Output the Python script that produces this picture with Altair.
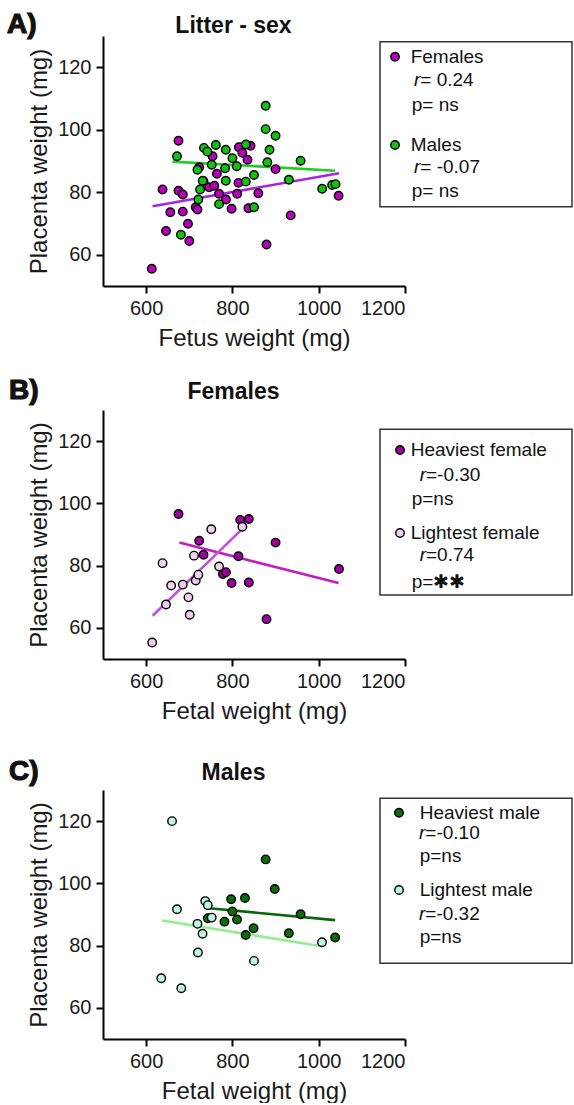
import altair as alt
import pandas as pd

# ---------------- data ----------------
# Panel A: all fetuses, by sex
a_fem_x = [613, 675, 638, 675, 685, 656, 685, 646, 697, 700, 715, 719, 746, 758, 764, 754, 769, 785,
           798, 811, 814, 815, 823, 835, 842, 837, 860, 879, 900, 935, 1046, 723, 733]
a_fem_y = [55.5, 96.5, 80.9, 80.5, 79.3, 73.6, 73.8, 67.6, 69.9, 64.4, 75.2, 74.5, 81.6, 82.1, 85.9, 91.5,
           79.5, 77.7, 74.7, 79.5, 83.0, 94.4, 92.6, 90.4, 94.9, 74.9, 79.7, 63.3, 87.4, 72.6, 78.9, 88.0, 83.5]
a_mal_x = [671.5, 680.6, 719, 731, 725, 721, 734, 742, 761.5, 752, 784.6, 783, 784.6, 769, 800, 810,
           831, 831, 850, 850, 877, 877, 900, 886, 881, 931, 958, 1008, 1031, 1039]
a_mal_y = [91.5, 66.4, 87.2, 83.7, 80.9, 77.7, 94.2, 93.0, 95.1, 88.8, 93.6, 87.7, 83.7, 76.2, 90.9, 88.3,
           95.3, 83.4, 85.5, 75.2, 107.7, 100.2, 98.1, 93.6, 89.6, 84.0, 90.1, 81.1, 82.3, 82.6]
a_fem_fit_x = [615, 1047]
a_fem_fit_y = [75.5, 86.1]
a_mal_fit_x = [661, 1038]
a_mal_fit_y = [89.8, 86.9]

# Panel B: females
b_heavy_x = [675, 723, 733, 778, 785, 798, 814, 818, 838, 838, 879, 900, 1047]
b_heavy_y = [96.6, 88.0, 83.5, 77.3, 77.9, 74.4, 83.0, 94.7, 95.0, 74.6, 62.8, 87.4, 78.9]
b_light_x = [614, 638, 646, 658, 685, 698, 701, 711, 715, 721, 751, 769, 823]
b_light_y = [55.3, 80.8, 67.5, 73.6, 73.9, 69.8, 64.2, 83.2, 75.2, 77.1, 91.7, 79.7, 92.5]
b_heavy_fit_x = [677, 1046]
b_heavy_fit_y = [87.4, 74.4]
b_light_fit_x = [615, 823]
b_light_fit_y = [63.9, 91.8]

# Panel C: males
c_heavy_x = [877, 898, 797, 829, 800, 958, 743, 781.5, 810.7, 849, 830.7, 930.7, 1038]
c_heavy_y = [107.7, 98.2, 94.9, 95.3, 91.0, 90.1, 88.8, 87.7, 88.4, 85.6, 83.4, 84.0, 82.6]
c_light_x = [660, 671.5, 635, 681.5, 720, 730.7, 719, 737, 743, 752, 850, 1007.6]
c_light_y = [120.0, 91.7, 69.5, 66.3, 77.8, 83.8, 87.0, 94.3, 93.0, 89.0, 75.1, 81.1]
c_heavy_fit_x = [746, 1038]
c_heavy_fit_y = [92.0, 88.2]
c_light_fit_x = [637, 1006]
c_light_fit_y = [88.1, 79.8]

x_ticks = [600, 800, 1000, 1200]
y_ticks = [60, 80, 100, 120]

FONT = "Liberation Sans"
ONE = pd.DataFrame({"k": [0]})


def xy(xs, ys):
    return pd.DataFrame({"x": xs, "y": ys})


def enc(x_title):
    return dict(
        x=alt.X("x:Q", scale=alt.Scale(domain=[500, 1200], nice=False, zero=False),
                axis=alt.Axis(values=x_ticks, title=x_title, format="d")),
        y=alt.Y("y:Q", scale=alt.Scale(domain=[50, 130], nice=False, zero=False),
                axis=alt.Axis(values=y_ticks, title="Placenta weight (mg)", format="d")),
    )


def text(t, x, y, size=19, weight="normal", style="normal", align="left", stroke=None):
    kw = dict(text=t, align=align, baseline="middle", font=FONT, fontSize=size,
              fontWeight=weight, fontStyle=style, color="#111111")
    if stroke:
        kw.update(stroke="#111111", strokeWidth=stroke)
    return alt.Chart(ONE).mark_text(**kw).encode(x=alt.value(x), y=alt.value(y))


PT = 72


def panel(letter, title, x_title, height, groups, title_y, legend):
    e = enc(x_title)
    layers = []
    for g in groups:
        layers.append(alt.Chart(xy(g["fx"], g["fy"])).mark_line(
            stroke=g["line"], strokeWidth=2.6).encode(**e))
    for g in groups:
        layers.append(alt.Chart(xy(g["xs"], g["ys"])).mark_point(
            shape="circle", filled=True, size=PT, fill=g["fill"], stroke="black",
            strokeWidth=1.4, opacity=1).encode(**e))
    # panel letter + title
    layers.append(text(letter, -96 if letter == "A)" else -94, title_y, size=28, weight="bold", stroke=1.2))
    layers.append(text(title, 130.5, title_y + 1, size=23, weight="bold", align="center"))
    # legend box
    bx = legend["box"]
    layers.append(alt.Chart(ONE).mark_rect(fill="white", stroke="#333333", strokeWidth=1.5).encode(
        x=alt.value(277), x2=alt.value(469), y=alt.value(bx[0]), y2=alt.value(bx[1])))
    for g, row in zip(groups, legend["rows"]):
        layers.append(alt.Chart(ONE).mark_point(
            shape="circle", filled=True, size=PT, fill=g["fill"], stroke="black",
            strokeWidth=1.4, opacity=1).encode(x=alt.value(legend["mx"]), y=alt.value(row["y"][0])))
        layers.append(text(g["name"], legend["nx"], row["y"][0]))
        layers.append(text("r", legend["rx"], row["y"][1], style="italic"))
        layers.append(text(g["r"], legend["rx"] + 6.3, row["y"][1]))
        layers.append(text(g["p"], legend["px"], row["y"][2]))
    return alt.layer(*layers).properties(width=302, height=height)


panel_a = panel(
    "A)", "Litter - sex", "Fetus weight (mg)", 250,
    [
        dict(name="Females", xs=a_fem_x, ys=a_fem_y, fx=a_fem_fit_x, fy=a_fem_fit_y,
             fill="#b800b8", line="#a626dc", r="= 0.24", p="p= ns"),
        dict(name="Males", xs=a_mal_x, ys=a_mal_y, fx=a_mal_fit_x, fy=a_mal_fit_y,
             fill="#14c014", line="#22cc22", r="= -0.07", p="p= ns"),
    ],
    -11,
    dict(box=(5.7, 170.7), mx=292, nx=307.7, rx=311, px=308.7,
         rows=[dict(y=(20.7, 44, 69)), dict(y=(109, 130.7, 155))]),
)

panel_b = panel(
    "B)", "Females", "Fetal weight (mg)", 249,
    [
        dict(name="Heaviest female", xs=b_heavy_x, ys=b_heavy_y, fx=b_heavy_fit_x, fy=b_heavy_fit_y,
             fill="#a000a0", line="#c21ec2", r="=-0.30", p="p=ns"),
        dict(name="Lightest female", xs=b_light_x, ys=b_light_y, fx=b_light_fit_x, fy=b_light_fit_y,
             fill="#f2d0f2", line="#c050dc", r="=0.74", p="p=\u2731\u2731"),
    ],
    -19,
    dict(box=(19.3, 185), mx=297, nx=307.7, rx=316.7, px=308.7,
         rows=[dict(y=(40, 65, 89)), dict(y=(123, 145, 171.7))]),
)

panel_c = panel(
    "C)", "Males", "Fetal weight (mg)", 249,
    [
        dict(name="Heaviest male", xs=c_heavy_x, ys=c_heavy_y, fx=c_heavy_fit_x, fy=c_heavy_fit_y,
             fill="#0a6e0a", line="#0a640a", r="=-0.10", p="p=ns"),
        dict(name="Lightest male", xs=c_light_x, ys=c_light_y, fx=c_light_fit_x, fy=c_light_fit_y,
             fill="#bff3e4", line="#90ee90", r="=-0.32", p="p=ns"),
    ],
    -18.5,
    dict(box=(8.3, 173.3), mx=296, nx=316.7, rx=316, px=316.7,
         rows=[dict(y=(22.7, 43.3, 66)), dict(y=(100, 124, 146.7))]),
)

chart = alt.vconcat(
    panel_a,
    alt.vconcat(panel_b, panel_c, spacing=131, bounds="flush"),
    spacing=124, bounds="flush",
).properties(
    padding={"left": 7, "top": 11, "right": 0, "bottom": 0},
    background="white",
).configure_view(stroke=None).configure_axis(
    domainColor="black", domainWidth=2, tickColor="black", tickWidth=2, tickSize=7,
    labelFont=FONT, labelFontSize=20, labelColor="#1a1a1a",
    titleFont=FONT, titleFontSize=24, titleFontWeight="normal", titleColor="#1a1a1a",
    grid=False,
).configure_axisX(labelPadding=5, titlePadding=8).configure_axisY(labelPadding=5, titlePadding=6)

chart.save("out.html", embed_options={"renderer": "svg", "actions": False})
